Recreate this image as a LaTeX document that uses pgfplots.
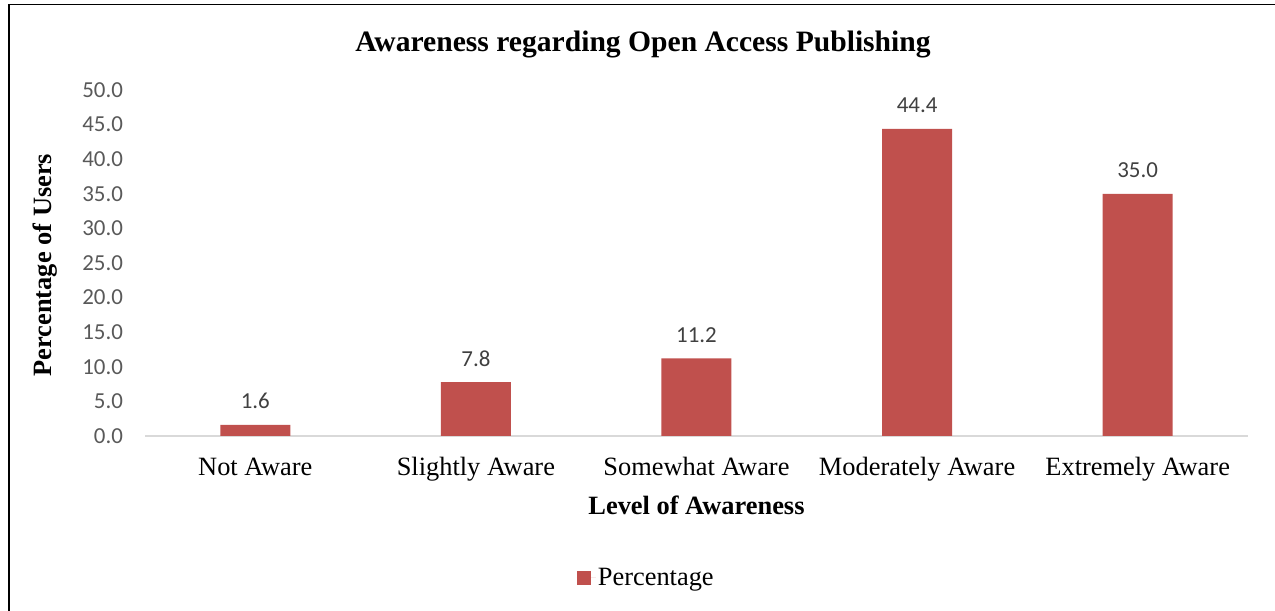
\documentclass[border=0pt]{standalone}
\usepackage{fontspec}
\setmainfont{Liberation Serif}
\newfontfamily\carlito{Carlito}
\usepackage{pgfplots}
\pgfplotsset{compat=1.18}

\definecolor{barred}{HTML}{C0504D}
\definecolor{axisgray}{HTML}{D9D9D9}
\definecolor{tickgray}{HTML}{595959}
\definecolor{valgray}{HTML}{404040}

\begin{document}
\begin{tikzpicture}
\path[use as bounding box] (0,0) rectangle (1275bp,611bp);
% frame of the chart (right and bottom edges are cut off)
\draw[line width=1.5bp] (9bp,-2bp) -- (9bp,606.5bp) -- (1277bp,606.5bp);

\node[font=\fontsize{29.7}{36}\selectfont\bfseries] at (643bp,566bp)
  {Awareness regarding Open Access Publishing};

\begin{axis}[
    at={(145bp,175bp)}, anchor=south west,
    scale only axis,
    width=1103bp, height=346bp,
    ybar, bar width=70bp,
    xmin=-0.5, xmax=4.5,
    ymin=0, ymax=50,
    xtick=data,
    xticklabels={Not Aware, Slightly Aware, Somewhat Aware, Moderately Aware, Extremely Aware},
    ytick={0,5,...,50},
    axis x line*=bottom, axis y line*=left,
    x axis line style={draw=axisgray, line width=1.5bp},
    y axis line style={draw=none},
    major tick length=0pt, tick style={draw=none},
    yticklabel style={font=\carlito\fontsize{23}{23}\selectfont, text=tickgray,
      /pgf/number format/.cd, fixed, fixed zerofill, precision=1, assume math mode=true},
    yticklabel shift=18.5bp,
    xticklabel style={font=\fontsize{26.5}{30}\selectfont, text=black,
      text height=18bp, text depth=6bp},
    xticklabel shift=18bp,
    nodes near coords,
    every node near coord/.append style={font=\carlito\fontsize{23}{23}\selectfont,
      text=valgray, yshift=12.3bp,
      /pgf/number format/.cd, fixed, fixed zerofill, precision=1, assume math mode=true},
    xlabel={Level of Awareness},
    ylabel={Percentage of Users},
    every axis x label/.style={at={(axis description cs:0.5,-0.2)}, anchor=center,
      font=\fontsize{26.5}{30}\selectfont\bfseries},
    every axis y label/.style={at={(axis description cs:-0.0907,0.494)}, anchor=center,
      rotate=90, font=\fontsize{26.5}{30}\selectfont\bfseries},
    legend style={at={(axis description cs:0.4545,-0.41)}, anchor=center,
      draw=none, fill=none, font=\fontsize{26.5}{30}\selectfont},
    legend image code/.code={\fill[barred] (0bp,-7bp) rectangle (14bp,7bp);
      \path (0bp,0bp) -- (19bp,0bp);},
  ]
\addplot[fill=barred, draw=none] coordinates {
  (0, 1.6)
  (1, 7.8)
  (2, 11.2)
  (3, 44.4)
  (4, 35.0)
};
\legend{Percentage}
\end{axis}
\end{tikzpicture}
\end{document}
